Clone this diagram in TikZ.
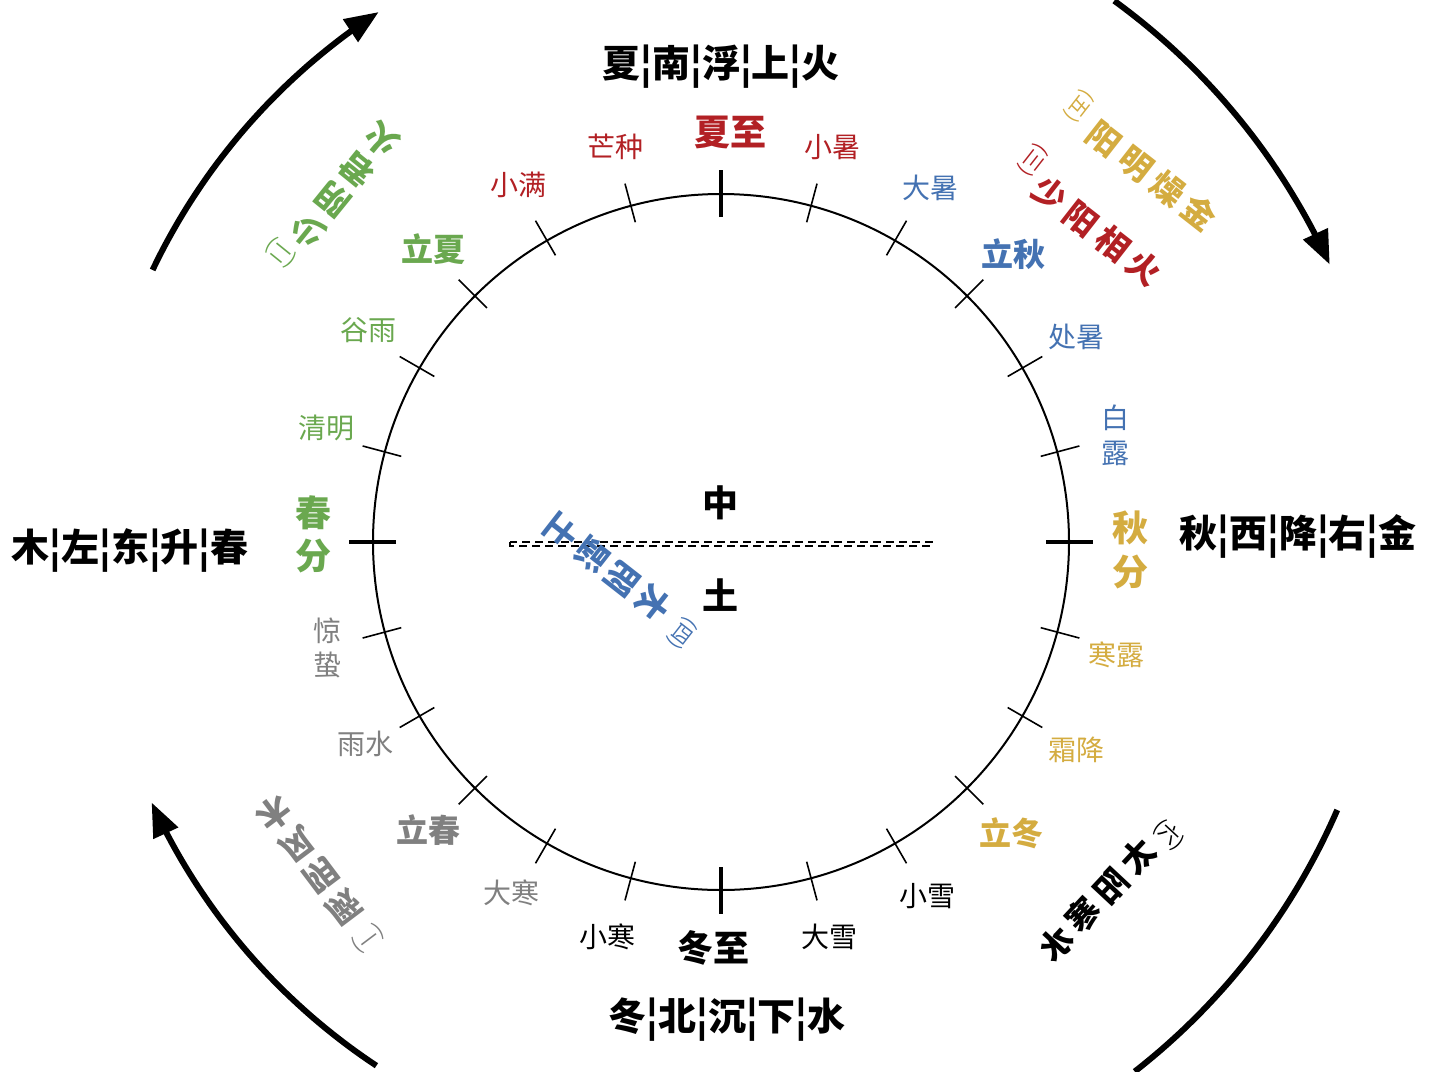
\documentclass[tikz,border=0pt]{standalone}
\usepackage{fontspec}
\usepackage{graphicx}
\newfontfamily\cjk{Noto Sans CJK SC}
\usetikzlibrary{arrows.meta}
\definecolor{cgreen}{RGB}{106,168,79}
\definecolor{cred}{RGB}{178,32,36}
\definecolor{cblue}{RGB}{68,114,178}
\definecolor{cgold}{RGB}{212,172,64}
\definecolor{cgray}{RGB}{128,128,128}
\newcommand\gp{\hspace{3.5pt}}
\begin{document}
\begin{tikzpicture}[x=0.5pt,y=-0.5pt,
  term/.style={font=\cjk\fontsize{14}{14}\selectfont, inner sep=0pt},
  major/.style={font=\cjk\bfseries\fontsize{16}{16}\selectfont, inner sep=0pt},
  bigmajor/.style={font=\cjk\bfseries\fontsize{18}{18}\selectfont, inner sep=0pt},
  titletext/.style={font=\cjk\bfseries\fontsize{19}{19}\selectfont, inner sep=0pt},
  rch/.style={font=\cjk\bfseries\fontsize{16.5}{19.5}\selectfont, inner sep=0pt, align=center},
  paren/.style={font=\cjk\fontsize{10}{10}\selectfont, inner sep=0pt},
  cycle arrow/.style={line width=3pt, -{Triangle[length=17pt,width=13pt]}},
  minor tick/.style={line width=0.8pt},
  major tick/.style={line width=2pt}]
\useasboundingbox (0,0) rectangle (1434,1071);
\fill[white] (0,0) rectangle (1434,1071);
% circle
\coordinate (O) at (721,542);
\draw[line width=1pt] (O) circle[radius=348];
% ticks
\foreach \a in {15,30,45,60,75,105,120,135,150,165,195,210,225,240,255,285,300,315,330,345}
  \draw[minor tick] ({721+331*cos(\a)},{542-331*sin(\a)}) -- ({721+371*cos(\a)},{542-371*sin(\a)});
\foreach \a in {0,90,180,270}
  \draw[major tick] ({721+325*cos(\a)},{542-325*sin(\a)}) -- ({721+372*cos(\a)},{542-372*sin(\a)});
% outer arrows
\draw[cycle arrow] plot[domain=154.5:123, samples=40, variable=\t] ({723+632*cos(\t)},{542-632*sin(\t)});
\draw[cycle arrow] plot[domain=54:24.5, samples=40, variable=\t] ({721+669*cos(\t)},{542-669*sin(\t)});
\draw[line width=3pt] plot[domain=-23.5:-52, samples=40, variable=\t] ({721+672*cos(\t)},{542-672*sin(\t)});
\draw[cycle arrow] plot[domain=236.5:204.5, samples=40, variable=\t] ({723+628*cos(\t)},{542-628*sin(\t)});
% titles
\node[titletext] (south) at (721,67) {夏¦南¦浮¦上¦火};
\node[titletext] (east) at (130,550) {木¦左¦东¦升¦春};
\node[titletext] (west) at (1298,536) {秋¦西¦降¦右¦金};
\node[titletext] (north) at (727,1020) {冬¦北¦沉¦下¦水};
% centre
\draw[dashed, dash pattern=on 4pt off 2.5pt, line width=0.6pt] (510,542) rectangle (932,546);
\node[bigmajor] (zhong) at (720,503) {中};
\node[bigmajor] (tu) at (720,595) {土};
% green terms
\node[term, text=cgreen] (qingming) at (326,428) {清明};
\node[term, text=cgreen] (guyu) at (368,330) {谷雨};
\node[major, text=cgreen] (lixia) at (433,249) {立夏};
\node[bigmajor, text=cgreen] (chunfenA) at (313,513) {春};
\node[bigmajor, text=cgreen] (chunfenB) at (313,556) {分};
% red terms
\node[term, text=cred] (xiaoman) at (518,185) {小满};
\node[term, text=cred] (mangzhong) at (615,147) {芒种};
\node[bigmajor, text=cred] (xiazhi) at (730,132) {夏至};
\node[term, text=cred] (xiaoshu) at (832,147) {小暑};
% blue terms
\node[term, text=cblue] (dashu) at (930,188) {大暑};
\node[major, text=cblue] (liqiu) at (1013,254) {立秋};
\node[term, text=cblue] (chushu) at (1076,337) {处暑};
\node[term, text=cblue] (bailuA) at (1115,418) {白};
\node[term, text=cblue] (bailuB) at (1115,453) {露};
% gold terms
\node[bigmajor, text=cgold] (qiufenA) at (1130,528) {秋};
\node[bigmajor, text=cgold] (qiufenB) at (1130,572) {分};
\node[term, text=cgold] (hanlu) at (1116,655) {寒露};
\node[term, text=cgold] (shuangjiang) at (1076,750) {霜降};
\node[major, text=cgold] (lidong) at (1011,833) {立冬};
% black terms
\node[term] (xiaoxue) at (927,896) {小雪};
\node[term] (daxue) at (829,937) {大雪};
\node[bigmajor] (dongzhi) at (713,948) {冬至};
\node[term] (xiaohan) at (607,937) {小寒};
% gray terms
\node[term, text=cgray] (dahan) at (511,893) {大寒};
\node[major, text=cgray] (lichun) at (428,830) {立春};
\node[term, text=cgray] (yushui) at (365,744) {雨水};
\node[term, text=cgray] (jingzheA) at (327,631) {惊};
\node[term, text=cgray] (jingzheB) at (327,665) {蛰};
% rotated qi labels
% (二) 少阴君火  (vertical text, turned)
\node[paren, text=cgreen, rotate=141] (shaoyinP) at (281,253) {(二)};
\node[rch, text=cgreen, rotate=141] (shaoyin) at (345,185) {少\\阴\\君\\火};
% (三) 少阳相火
\node[paren, text=cred, rotate=-128] (shaoyangP) at (1033,160) {(三)};
\node[rch, text=cred, rotate=-38] (shaoyang) at (1097,231) {少\gp 阳\gp 相\gp 火};
% (五) 阳明燥金
\node[paren, text=cgold, rotate=-128] (yangmingP) at (1079,106) {(五)};
\node[rch, text=cgold, rotate=-38] (yangming) at (1152,176) {阳\gp 明\gp 燥\gp 金};
% (六) 太阳寒水 (mirrored)
\node[paren, rotate=-43] (taiyangP) at (1169,835) {(六)};
\node[rch, rotate=47, xscale=-1] (taiyang) at (1097,900) {太\gp 阳\gp 寒\gp 水};
% (一) 厥阴风木 (mirrored vertical)
\node[paren, text=cgray, rotate=217, xscale=-1] (jueyinP) at (368,938) {(一)};
\node[rch, text=cgray, rotate=217, xscale=-1] (jueyin) at (309,860) {厥\\阴\\风\\木};
% (四) 太阴湿土 (mirrored vertical)
\node[paren, text=cblue, rotate=232, xscale=-1] (taiyinP) at (682,633) {(四)};
\node[rch, text=cblue, rotate=232, xscale=-1] (taiyin) at (608,568) {太\\阴\\湿\\土};
\end{tikzpicture}
\end{document}
